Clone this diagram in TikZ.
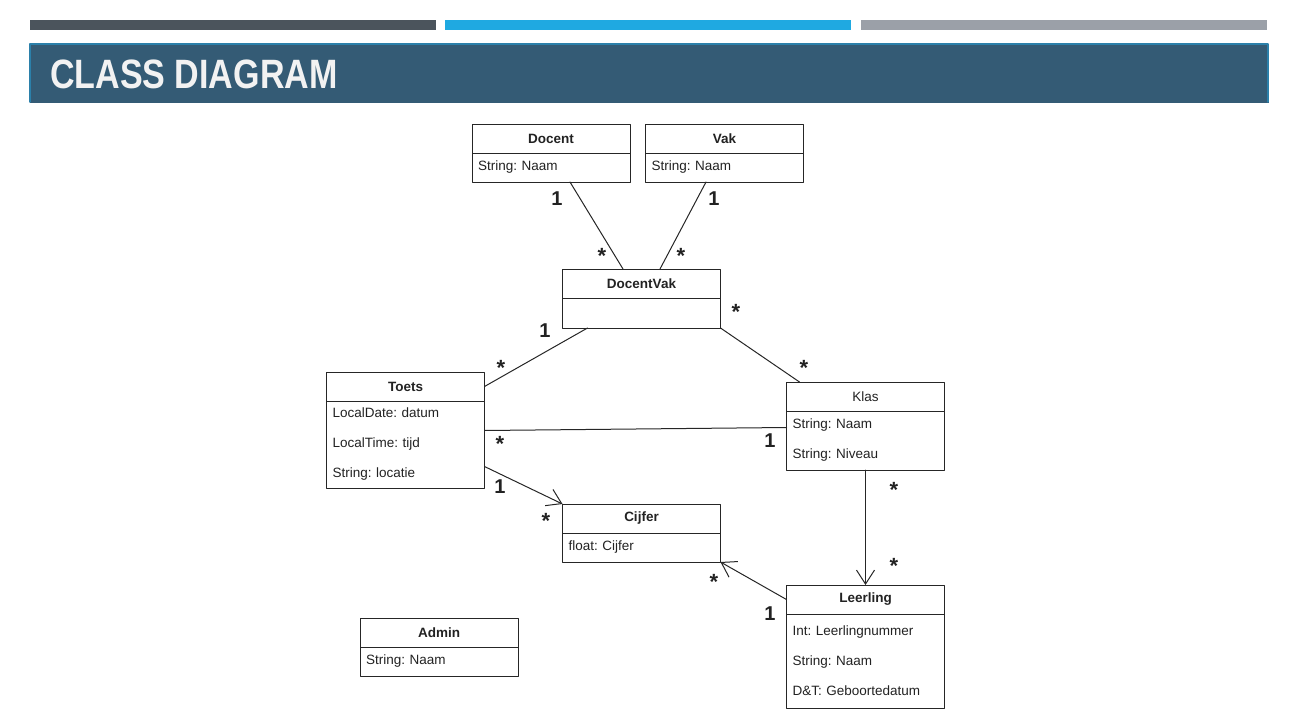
\documentclass[tikz,border=0pt]{standalone}
\usepackage{fontspec}
\setmainfont{Liberation Sans}
\usepackage{graphicx}
\usetikzlibrary{positioning,arrows.meta}
\definecolor{bardark}{HTML}{4B545C}
\definecolor{barblue}{HTML}{1FA9E1}
\definecolor{bargray}{HTML}{9BA0A8}
\definecolor{banner}{HTML}{345B75}
\definecolor{bannerrand}{HTML}{2B80AA}
\definecolor{umlline}{HTML}{262626}
\definecolor{umltext}{HTML}{222222}
\frenchspacing
\begin{document}
\begin{tikzpicture}[x=1pt,y=-1pt,>={Straight Barb[length=14pt,width=18pt]},line join=round,line cap=round,
	every node/.style={font=\fontsize{13.5}{30}\selectfont,text=umltext},
	kop/.style={draw=umlline,line width=1pt,minimum width=158,minimum height=29,inner sep=0,outer sep=0,font=\fontsize{13.5}{16}\selectfont\bfseries},
	veld/.style={draw=umlline,line width=1pt,text width=146,inner xsep=6,inner ysep=0,outer sep=0,align=left,below=0pt of #1},
	een/.style={font=\fontsize{20}{20}\selectfont\bfseries,inner sep=0},
	ster/.style={font=\fontsize{22}{22}\selectfont\bfseries,inner sep=0},
	lijn/.style={draw=umlline,line width=1pt}]
	\useasboundingbox (0,0) rectangle (1294,715);
	% balken en titel
	\fill[bardark] (30,20) rectangle (436,30);
	\fill[barblue] (445,20) rectangle (851,30);
	\fill[bargray] (861,20) rectangle (1267,30);
	\draw[banner,fill=banner,line width=0pt] (30,44) rectangle (1268,102);
	\draw[bannerrand,line width=1.5pt] (30,102) -- (30,44) -- (1268,44) -- (1268,102);
	\node[anchor=base west,inner sep=0,text=white!95!black] (titel) at (50,88) {\scalebox{0.83}[1]{\fontsize{41}{41}\selectfont\bfseries CLASS DIAGRAM}};
	% klassen
	\node[kop] (docent) at (551,138.5) {Docent};
	\node[veld=docent,minimum height=29] (docentV) {String: Naam};
	\node[kop] (vak) at (724.5,138.5) {Vak};
	\node[veld=vak,minimum height=29] (vakV) {String: Naam};
	\node[kop] (docentvak) at (641.5,283.5) {DocentVak};
	\node[veld=docentvak,minimum height=30] (docentvakV) {};
	\node[kop] (toets) at (405.5,386.5) {Toets};
	\node[veld=toets,minimum height=87] (toetsV) {LocalDate: datum\\LocalTime: tijd\\String: locatie};
	\node[kop,font=\fontsize{13.5}{16}\selectfont] (klas) at (865.5,396.5) {Klas};
	\node[veld=klas,minimum height=59] (klasV) {String: Naam\\String: Niveau};
	\node[kop] (cijfer) at (641.5,518.5) {Cijfer};
	\node[veld=cijfer,minimum height=29] (cijferV) {float: Cijfer};
	\node[kop] (leerling) at (865.5,599.5) {Leerling};
	\node[veld=leerling,minimum height=94] (leerlingV) {Int: Leerlingnummer\\String: Naam\\D\&T: Geboortedatum};
	\node[kop] (admin) at (439,632.5) {Admin};
	\node[veld=admin,minimum height=29] (adminV) {String: Naam};
	% associaties
	\draw[lijn] ([xshift=19]docentV.south) -- ([xshift=-18.5]docentvak.north);
	\draw[lijn] ([xshift=-18.5]vakV.south) -- ([xshift=18.5]docentvak.north);
	\draw[lijn] ([xshift=25]docentvakV.south west) -- (toets.east);
	\draw[lijn] (docentvakV.south east) -- ([xshift=13]klas.north west);
	\draw[lijn] ([yshift=14]toetsV.east) -- ([yshift=13]klasV.west);
	\draw[lijn,->] ([yshift=-22]toetsV.east) -- (cijfer.north west);
	\draw[lijn,->] (klasV.south) -- (leerling.north);
	\draw[lijn,->] (leerling.west) -- (cijferV.south east);
	% multipliciteiten
	\node[een] (m1) at (557,199) {1};
	\node[ster] (m2) at (602,256) {*};
	\node[een] (m3) at (714,199) {1};
	\node[ster] (m4) at (681,256) {*};
	\node[een] (m5) at (545,331) {1};
	\node[ster] (m6) at (501,368) {*};
	\node[ster] (m7) at (736,312) {*};
	\node[ster] (m8) at (804,368) {*};
	\node[ster] (m9) at (500,444) {*};
	\node[een] (m10) at (770,441) {1};
	\node[een] (m11) at (500,487) {1};
	\node[ster] (m12) at (546,521) {*};
	\node[ster] (m13) at (894,490) {*};
	\node[ster] (m14) at (894,566) {*};
	\node[ster] (m15) at (714,582) {*};
	\node[een] (m16) at (770,614) {1};
\end{tikzpicture}
\end{document}
